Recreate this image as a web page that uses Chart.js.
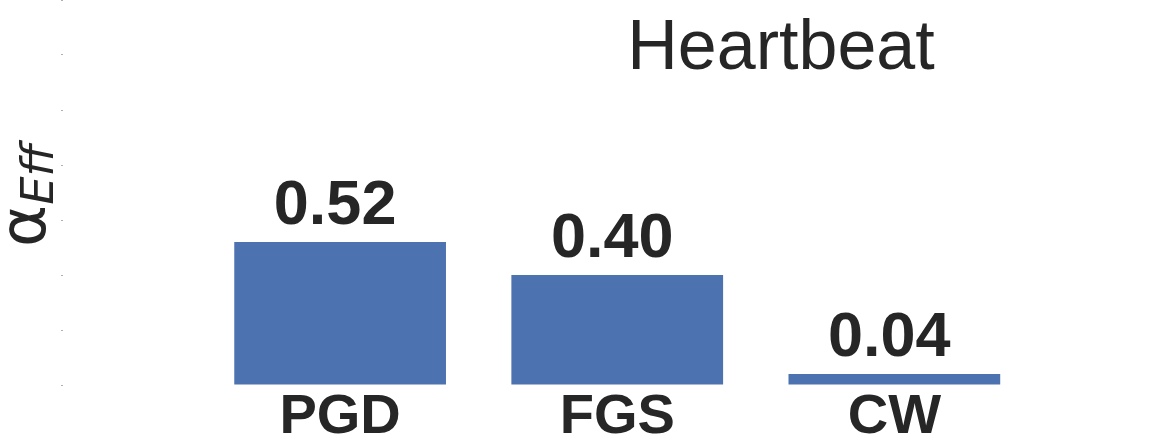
<!DOCTYPE html>
<html>
<head>
<meta charset="utf-8">
<script src="https://cdn.jsdelivr.net/npm/chart.js@4.4.1/dist/chart.umd.min.js"></script>
<style>
html,body{margin:0;padding:0;background:#fff;}
#wrap{width:1159px;height:446px;position:relative;}
</style>
</head>
<body>
<div id="wrap"><canvas id="c" width="1159" height="446"></canvas></div>
<script>
const categories=["PGD","FGS","CW"];
const alphaEff=[0.52,0.40,0.04];
const valueLabels=["0.52","0.40","0.04"];
const chartTitle="Heartbeat";

const INK="#262626";
const SANS="'Liberation Sans', Arial, sans-serif";
const X_MIN=-1,X_MAX=2.955;

// title, y label and value labels drawn by hand
const textPlugin={
  id:"texts",
  afterDatasetsDraw(chart){
    const ctx=chart.ctx;
    ctx.save();
    ctx.fillStyle=INK;
    ctx.font="bold 63px "+SANS;
    ctx.textAlign="center";
    ctx.textBaseline="alphabetic";
    chart.getDatasetMeta(0).data.forEach((bar,i)=>{
      ctx.fillText(valueLabels[i],bar.x-5,bar.y-18);
    });
    ctx.font="70px "+SANS;
    ctx.fillText(chartTitle,781,69);
    // y axis label: alpha with subscript Eff
    ctx.translate(45,247);
    ctx.rotate(-Math.PI/2);
    ctx.textAlign="left";
    ctx.font="64px 'DejaVu Sans', sans-serif";
    ctx.fillText("α",0,0);
    const w=ctx.measureText("α").width;
    ctx.font="italic 45px 'DejaVu Sans', sans-serif";
    ctx.fillText("Eff",w,8);
    ctx.restore();
  }
};

new Chart(document.getElementById("c"),{
  type:"bar",
  data:{
    datasets:[{
      data:categories.map((c,i)=>({x:i,y:alphaEff[i]})),
      backgroundColor:"#4c72b0",
      borderWidth:0,
      categoryPercentage:1,
      barPercentage:0.8
    }]
  },
  options:{
    responsive:false,
    animation:false,
    layout:{padding:0},
    plugins:{legend:{display:false},tooltip:{enabled:false}},
    scales:{
      x:{
        type:"linear",
        offset:false,
        min:X_MIN,
        max:X_MAX,
        grid:{display:false,offset:false},
        border:{display:false},
        afterFit:s=>{s.height=61;},
        afterBuildTicks:s=>{
          s.ticks=[{value:X_MIN}].concat(categories.map((c,i)=>({value:i})),[{value:X_MAX}]);
        },
        ticks:{
          autoSkip:false,
          maxRotation:0,
          padding:-9,
          color:INK,
          font:{family:SANS,size:56,weight:"bold"},
          callback:v=>categories[v]!==undefined?categories[v]:""
        }
      },
      y:{
        min:0,
        max:1.4,
        grid:{drawOnChartArea:false,drawTicks:true,tickLength:2,color:"#b0b0b0",lineWidth:1},
        border:{display:false},
        afterFit:s=>{s.width=63;s.paddingTop=0;s.paddingBottom=0;},
        ticks:{stepSize:0.2,display:true,padding:0,font:{size:1},callback:()=>""}
      }
    }
  },
  plugins:[textPlugin]
});
</script>
</body>
</html>
